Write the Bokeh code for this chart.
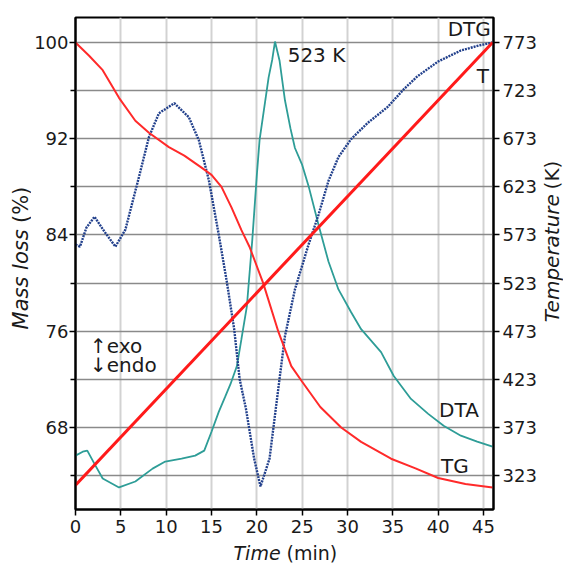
import math
from bokeh.plotting import figure
from bokeh.models import Range1d, LinearAxis, FixedTicker, Label
from bokeh.layouts import row, column
from bokeh.embed import file_html
from bokeh.resources import INLINE

# ---------------- data ----------------
time_ticks = [0, 5, 10, 15, 20, 25, 30, 35, 40, 45]
mass_ticks = [68, 76, 84, 92, 100]
mass_minor = [64, 72, 80, 88, 96]
temp_ticks = [323, 373, 423, 473, 523, 573, 623, 673, 723, 773]

# TG: mass loss (%)
tg_time = [0, 1.5, 3.0, 4.8, 6.6, 8.1, 10.3, 12.0, 13.9, 15.0, 16.1, 17.2, 18.3,
           19.2, 20.7, 22.4, 23.8, 25.0, 27.0, 29.3, 31.5, 34.8, 37.5, 40.0, 43.0, 46.0]
tg_mass = [100.0, 98.9, 97.7, 95.4, 93.5, 92.5, 91.3, 90.6, 89.6, 89.0, 88.0, 86.3, 84.4,
           83.0, 80.0, 75.9, 73.1, 71.8, 69.7, 68.0, 66.8, 65.4, 64.6, 63.8, 63.3, 63.0]

# T: temperature (K)
t_time = [0, 46]
t_temp = [313, 773]

# DTG (arbitrary units, drawn on temperature scale)
dtg_time = [0, 0.5, 1.2, 2.1, 3.2, 4.4, 5.5, 7.0, 8.1, 9.2, 10.9, 12.5, 13.6, 14.7,
            15.8, 16.7, 17.5, 18.1, 18.8, 19.7, 20.4, 21.4, 22.5, 23.1, 24.2, 25.7,
            26.8, 27.9, 29.0, 30.4, 32.2, 34.4, 36.2, 37.7, 40.0, 42.5, 44.5, 46.0]
dtg_val = [563.0, 560.9, 580.6, 591.9, 576.4, 560.9, 578.5, 633.3, 674.7, 699.5, 709.9,
           695.4, 671.6, 630.2, 573.3, 523.7, 475.1, 423.3, 392.3, 340.6, 311.6, 340.6,
           423.3, 467.8, 516.4, 563.0, 594.0, 629.2, 654.0, 672.7, 689.2, 705.8, 724.4,
           737.8, 753.3, 764.7, 769.9, 773.0]

# DTA (arbitrary units, drawn on temperature scale)
dta_time = [0, 0.8, 1.3, 2.2, 3.0, 4.8, 6.6, 8.5, 9.9, 11.7, 13.2, 14.2, 15.0, 15.8,
            16.5, 17.1, 17.8, 18.3, 18.9, 19.5, 20.0, 20.3, 21.3, 21.7, 22.0, 22.5,
            23.1, 23.7, 24.2, 25.0, 25.7, 26.8, 27.9, 29.0, 30.4, 31.5, 33.7, 35.1,
            37.0, 38.9, 40.6, 42.5, 44.3, 46.0]
dta_val = [343.7, 347.8, 348.9, 333.3, 319.9, 310.6, 316.8, 330.2, 337.5, 340.6, 343.7,
           348.9, 368.5, 389.2, 404.7, 418.2, 436.8, 464.7, 498.9, 568.2, 635.4, 671.6,
           736.8, 755.4, 774.0, 754.4, 713.0, 684.0, 663.4, 645.8, 624.0, 583.7, 545.4,
           516.4, 492.7, 475.1, 451.3, 426.4, 402.6, 387.1, 374.7, 364.4, 358.2, 353.0]

FONT = "DejaVu Sans"
TXT = "#1a1a1a"

# layout geometry (pixels)
LEFT_W, MAIN_W, RIGHT_W = 31, 509, 23
MAIN_H, BOTTOM_H = 541, 22

p = figure(width=MAIN_W, height=MAIN_H, output_backend="svg", toolbar_location=None,
           x_range=Range1d(0, 46.1), y_range=Range1d(61.18, 102.08),
           min_border_left=42, min_border_right=47, min_border_top=17,
           min_border_bottom=32, background_fill_color="white",
           border_fill_color="white")
p.extra_y_ranges = {"temp": Range1d(287.7, 799.0)}
p.outline_line_color = "black"
p.outline_line_width = 2

right = LinearAxis(y_range_name="temp")
p.add_layout(right, "right")

for ax in [p.xaxis[0], p.yaxis[0], right]:
    ax.axis_line_color = "black"
    ax.axis_line_width = 2
    ax.major_tick_line_color = "black"
    ax.major_tick_line_width = 1.5
    ax.major_tick_out = 6
    ax.major_tick_in = 0
    ax.major_label_text_font = FONT
    ax.major_label_text_font_size = "18px"
    ax.major_label_text_color = TXT
    ax.minor_tick_line_color = None

p.xaxis[0].ticker = FixedTicker(ticks=time_ticks)
p.xaxis[0].major_label_standoff = 4

p.yaxis[0].ticker = FixedTicker(ticks=mass_ticks, minor_ticks=mass_minor)
p.yaxis[0].minor_tick_line_color = "black"
p.yaxis[0].minor_tick_line_width = 1.5
p.yaxis[0].minor_tick_out = 5
p.yaxis[0].minor_tick_in = 0
p.yaxis[0].major_label_standoff = 1

right.ticker = FixedTicker(ticks=temp_ticks)
right.major_label_standoff = 3

p.xgrid.ticker = FixedTicker(ticks=time_ticks[1:])
p.xgrid.grid_line_color = "#d2d2d2"
p.xgrid.grid_line_width = 2
p.ygrid.ticker = FixedTicker(ticks=mass_minor + mass_ticks)
p.ygrid.grid_line_color = "#8a8a8a"
p.ygrid.grid_line_width = 1.6

# curves
p.line(dta_time, dta_val, y_range_name="temp", line_color="#2e9d97", line_width=1.8)
p.line(dtg_time, dtg_val, y_range_name="temp", line_color="#22408c", line_width=2.4,
       line_dash="2 1")
p.line(tg_time, tg_mass, line_color="#ff2a2a", line_width=2)
p.line(t_time, t_temp, y_range_name="temp", line_color="#ff1a1a", line_width=3)

# in-plot annotations (data coordinates)
def lab(x, y, text, align="left"):
    p.add_layout(Label(x=x, y=y, y_range_name="temp", text=text, text_font=FONT,
                       text_font_size="20px", text_color=TXT, text_align=align,
                       text_baseline="alphabetic"))

lab(45.8, 787, "DTG", align="right")
lab(45.6, 738, "T", align="right")
lab(23.4, 760, "523 K")
lab(40.1, 391, "DTA")
lab(40.3, 333, "TG")
lab(1.6, 458, "\u2191exo")
lab(1.6, 438, "\u2193endo")


# ---- strips that carry the axis titles (italic name + upright unit) ----
def strip(w, h):
    s = figure(width=w, height=h, output_backend="svg", toolbar_location=None,
               x_range=Range1d(0, w), y_range=Range1d(0, h),
               x_axis_type=None, y_axis_type=None,
               min_border_left=0, min_border_right=0, min_border_top=0,
               min_border_bottom=0, background_fill_color="white",
               border_fill_color="white")
    s.outline_line_color = None
    return s


def title_part(s, x, y, text, size, style="normal", angle=0.0):
    s.add_layout(Label(x=x, y=y, text=text, text_font=FONT, text_font_size=size,
                       text_font_style=style, text_color=TXT, text_align="left",
                       text_baseline="alphabetic", angle=angle))


vert = math.pi / 2

# left: "Mass loss (%)"  (reads bottom to top)
pl = strip(LEFT_W, MAIN_H)
title_part(pl, 20, MAIN_H - 343, "Mass loss", "21px", "italic", vert)
title_part(pl, 20, MAIN_H - 343 + 117, "(%)", "21px", "normal", vert)

# right: "Temperature (K)"  (reads bottom to top)
pr = strip(RIGHT_W, MAIN_H)
title_part(pr, 11, MAIN_H - 335, "Temperature", "20px", "italic", vert)
title_part(pr, 11, MAIN_H - 335 + 146, "(K)", "20px", "normal", vert)

# bottom: "Time (min)"
pb = strip(LEFT_W + MAIN_W + RIGHT_W, BOTTOM_H)
title_part(pb, 233, 11, "Time", "19px", "italic")
title_part(pb, 286, 11, "(min)", "19px", "normal")

layout = column(row(pl, p, pr), pb)

open("out.html", "w").write(file_html(layout, INLINE))
